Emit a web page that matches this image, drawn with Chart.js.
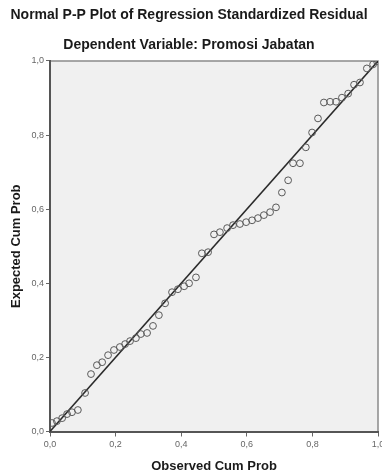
<!DOCTYPE html>
<html>
<head>
<meta charset="utf-8">
<script src="https://cdn.jsdelivr.net/npm/chart.js@4"></script>
<style>
  html, body { margin: 0; padding: 0; background: #fff; }
  #wrap { width: 382px; height: 476px; }
</style>
</head>
<body>
<div id="wrap"><canvas id="myChart" width="382" height="476"></canvas></div>
<script>
'use strict';

let chartTitle = 'Normal P-P Plot of Regression Standardized Residual';
let chartSubtitle = 'Dependent Variable: Promosi Jabatan';
let xTitle = 'Observed Cum Prob';
let yTitle = 'Expected Cum Prob';
let tickLabels = ['0,0', '0,2', '0,4', '0,6', '0,8', '1,0'];

// observed vs expected cumulative probability
let observed = [0.006, 0.021, 0.037, 0.052, 0.067, 0.085, 0.107, 0.125, 0.143, 0.159,
  0.177, 0.195, 0.213, 0.229, 0.244, 0.262, 0.277, 0.296, 0.314, 0.332,
  0.351, 0.372, 0.390, 0.409, 0.424, 0.445, 0.463, 0.482, 0.500, 0.518,
  0.540, 0.558, 0.579, 0.598, 0.616, 0.634, 0.652, 0.671, 0.689, 0.707,
  0.726, 0.741, 0.762, 0.780, 0.799, 0.817, 0.835, 0.854, 0.872, 0.890,
  0.909, 0.927, 0.945, 0.966, 0.985, 0.997];
let expected = [0.023, 0.028, 0.036, 0.047, 0.052, 0.058, 0.104, 0.155, 0.179, 0.187,
  0.206, 0.220, 0.228, 0.236, 0.244, 0.252, 0.263, 0.266, 0.285, 0.314,
  0.346, 0.376, 0.384, 0.392, 0.400, 0.416, 0.481, 0.484, 0.532, 0.538,
  0.549, 0.557, 0.560, 0.565, 0.570, 0.576, 0.584, 0.592, 0.605, 0.645,
  0.678, 0.724, 0.724, 0.767, 0.807, 0.845, 0.888, 0.890, 0.890, 0.901,
  0.912, 0.936, 0.942, 0.980, 0.991, 0.999];
let refLine = [0, 1];

let points = [];
for (let i = 0; i < observed.length; i++) {
  points.push({x: observed[i], y: expected[i]});
}
let diag = refLine.map(v => ({x: v, y: v}));

let plotBg = {
  id: 'plotBg',
  beforeDraw(chart) {
    let a = chart.chartArea;
    let c = chart.ctx;
    c.save();
    c.fillStyle = '#f0f0f0';
    c.fillRect(a.left, a.top, a.right - a.left, a.bottom - a.top);
    c.strokeStyle = '#8a8a8a';
    c.lineWidth = 1.5;
    c.beginPath();
    c.moveTo(a.left, a.top);
    c.lineTo(a.right, a.top);
    c.lineTo(a.right, a.bottom);
    c.stroke();
    c.restore();
  }
};

let ctx = document.getElementById('myChart');
new Chart(ctx, {
  type: 'scatter',
  data: {
    datasets: [{
      label: 'ref',
      type: 'line',
      data: diag,
      borderColor: '#2a2a2a',
      borderWidth: 1.5,
      pointRadius: 0,
      order: 2
    },
    {
      label: 'residual',
      data: points,
      pointStyle: 'circle',
      pointRadius: 3.4,
      borderWidth: 1,
      borderColor: '#5a5a5a',
      backgroundColor: 'rgba(0,0,0,0)',
      order: 1
    }]
  },
  options: {
    responsive: false,
    animation: false,
    layout: { autoPadding: false, padding: { top: 0, right: 4, bottom: 0, left: 0 } },
    plugins: {
      legend: { display: false },
      tooltip: { enabled: false },
      title: {
        display: true,
        text: chartTitle,
        color: '#1a1a1a',
        font: { family: 'Liberation Sans', size: 14, weight: 'bold' },
        padding: { top: 6.6, bottom: 0 }
      },
      subtitle: {
        display: true,
        text: chartSubtitle,
        color: '#1a1a1a',
        font: { family: 'Liberation Sans', size: 14, weight: 'bold' },
        padding: { top: 13.2, bottom: 7.6 }
      }
    },
    scales: {
      x: {
        type: 'linear',
        min: 0,
        max: 1,
        afterFit(scale) {
          scale.height = 44.5;
          scale.paddingLeft = 0;
          scale.paddingRight = 0;
        },
        ticks: {
          stepSize: 0.2,
          color: '#666',
          font: { family: 'Liberation Sans', size: 9 },
          padding: 3,
          maxRotation: 0,
          callback: (v, i) => tickLabels[i]
        },
        grid: { drawOnChartArea: false, drawTicks: true, tickLength: 5, color: '#666', tickWidth: 1 },
        border: { color: '#555', width: 2 },
        title: {
          display: true,
          text: xTitle,
          color: '#1a1a1a',
          font: { family: 'Liberation Sans', size: 13, weight: 'bold' },
          padding: { top: 0, bottom: 2 }
        }
      },
      y: {
        type: 'linear',
        min: 0,
        max: 1,
        afterFit(scale) {
          scale.width = 50;
          scale.paddingTop = 0;
          scale.paddingBottom = 0;
        },
        ticks: {
          stepSize: 0.2,
          color: '#666',
          font: { family: 'Liberation Sans', size: 9 },
          padding: 2,
          callback: (v, i) => tickLabels[i]
        },
        grid: { drawOnChartArea: false, drawTicks: true, tickLength: 4, color: '#666', tickWidth: 1 },
        border: { color: '#555', width: 2 },
        title: {
          display: true,
          text: yTitle,
          color: '#1a1a1a',
          font: { family: 'Liberation Sans', size: 13, weight: 'bold' },
          padding: { top: 9, bottom: 0 }
        }
      }
    }
  },
  plugins: [plotBg]
});
</script>
</body>
</html>
